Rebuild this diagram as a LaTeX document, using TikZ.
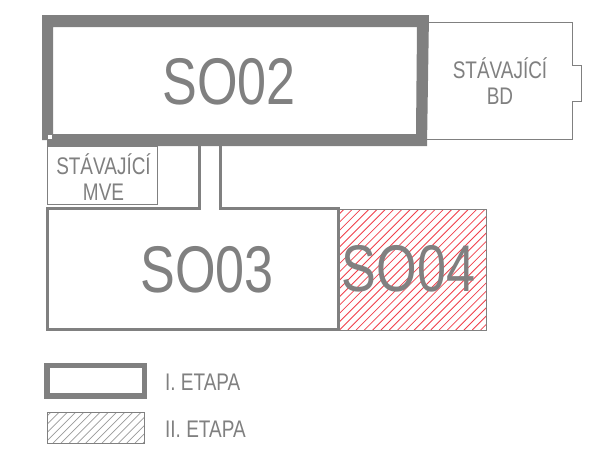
\documentclass[tikz,border=0pt]{standalone}
\usepackage{fontspec}
\usepackage{tikz}
\newfontfamily\planFont[FakeStretch=0.79]{Liberation Sans}
\definecolor{planGray}{HTML}{808080}
\definecolor{hatchRed}{HTML}{F0404A}
\tikzset{
    thinWall/.style={draw=planGray, line width=0.9pt},
    thickWall/.style={draw=planGray, line width=3.5pt, line join=miter},
    planText/.style={text=planGray, inner sep=0pt, align=center},
    bigLabel/.style={planText, font=\fontsize{66}{66}\selectfont\planFont},
    midLabel/.style={planText, font=\fontsize{24}{26}\selectfont\planFont}
}

\begin{document}
\begin{tikzpicture}[x=1pt, y=-1pt]
        \useasboundingbox[fill=white] (0,0) rectangle (605,451);

        % Existing buildings
        \draw[thinWall] (428,22) -- (572,22) -- (572,65) -- (581,65) -- (581,101) -- (572,101) -- (572,139) -- (427,139);
        \draw[thinWall] (47.5,146) rectangle (157,204);

        % SO04 hatching
        \begin{scope}
            \clip (339,209) rectangle (486,330);
            \foreach \i in {0,...,33} {
                \draw[hatchRed, line width=0.8pt] ({215+\i*8.3},330) -- ++(125,-125);
            }
        \end{scope}
        \draw[thinWall] (339,209) rectangle (486,330);

        % SO02 outline
        \fill[planGray, even odd rule] (42,15) -- (429,15) -- (427,146) -- (47,146) -- (47,140) -- (42,140) -- cycle
            (53,27) -- (417,27) -- (416,134) -- (53,134) -- cycle;
        \fill[white] (48,135) rectangle (52,139);

        % SO03 outline with the link up to SO02
        \draw[thickWall] (199.5,145) -- (199.5,208.5) -- (47.5,208.5) -- (47.5,329.5) -- (338.5,329.5) -- (338.5,208.5) -- (220.5,208.5) -- (220.5,145);

        % Legend
        \draw[planGray, line width=5.5pt] (47,365.5) rectangle (144.5,396);
        \begin{scope}
            \clip (47,412) rectangle (144,443);
            \foreach \i in {0,...,17} {
                \draw[planGray!80, line width=0.7pt] ({12+\i*8.2},443) -- ++(35,-35);
            }
        \end{scope}
        \draw[thinWall] (47,412) rectangle (144,443);

        % Annotations
        \node[bigLabel] (so02) at (229,82) {SO02};
        \node[bigLabel] (so03) at (207,270) {SO03};
        \node[bigLabel] (so04) at (408.5,269) {SO04};
        \node[midLabel] (bd) at (500,81) {ST\'AVAJ\'IC\'I\\BD};
        \node[midLabel] (mve) at (103.5,177) {ST\'AVAJ\'IC\'I\\MVE};
        \node[midLabel, anchor=west] (etapaOne) at (165,382) {I. ETAPA};
        \node[midLabel, anchor=west] (etapaTwo) at (165,429) {II. ETAPA};
    \end{tikzpicture}
\end{document}
